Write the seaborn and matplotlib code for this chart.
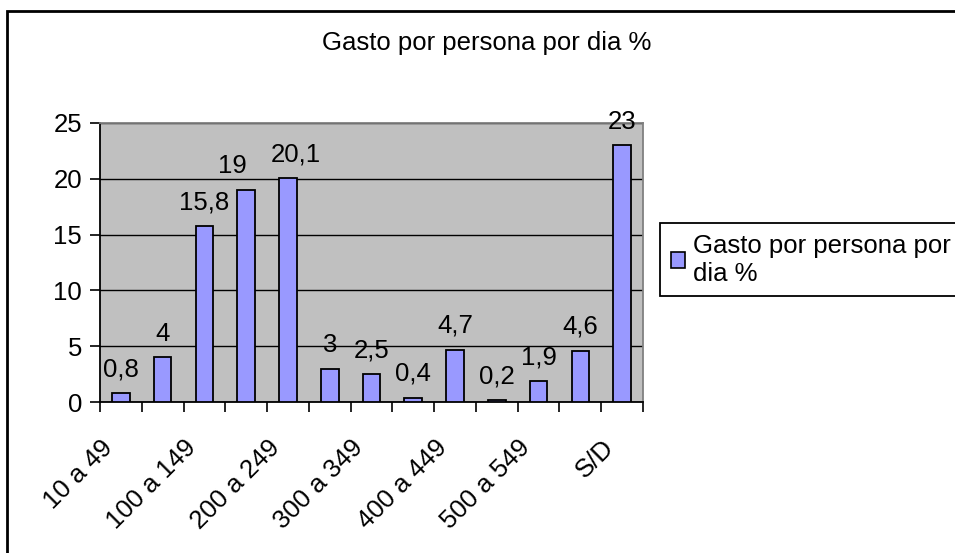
import matplotlib
matplotlib.use("Agg")
import matplotlib.pyplot as plt
from matplotlib.patches import Rectangle, Patch
import matplotlib.transforms as mtrans
import numpy as np
import pandas as pd
import seaborn as sns

categories = ["10 a 49", "50 a 99", "100 a 149", "150 a 199", "200 a 249",
              "250 a 299", "300 a 349", "350 a 399", "400 a 449", "450 a 499",
              "500 a 549", "550 a 599", "S/D"]
values = [0.8, 4, 15.8, 19, 20.1, 3, 2.5, 0.4, 4.7, 0.2, 1.9, 4.6, 23]
value_labels = ["0,8", "4", "15,8", "19", "20,1", "3", "2,5", "0,4", "4,7",
                "0,2", "1,9", "4,6", "23"]
yticks = [0, 5, 10, 15, 20, 25]
title = "Gasto por persona por dia %"
series_name = "Gasto por persona por dia %"

sns.set_theme(style="white")
plt.rcParams["font.family"] = ["Liberation Sans", "DejaVu Sans"]
plt.rcParams["text.color"] = "black"
plt.rcParams["xtick.color"] = "black"
plt.rcParams["ytick.color"] = "black"
FS = 18.5
W, H = 955, 553

fig = plt.figure(figsize=(W / 100, H / 100), dpi=100)
fig.patch.set_facecolor("white")
# outer chart border
fig.patches.append(Rectangle((7 / W, -0.1), 1.2, 1 - 11 / H + 0.1,
                             transform=fig.transFigure, fill=False,
                             edgecolor="black", lw=2, zorder=0))

ax = fig.add_axes([100 / W, 151 / H, 543 / W, 279 / H])
df = pd.DataFrame({"cat": categories, "val": values})
sns.barplot(data=df, x="cat", y="val", ax=ax, color="#9999FF", width=0.42,
            edgecolor="black", linewidth=1.3, saturation=1, zorder=3)
ax.set_facecolor("#C0C0C0")
ax.set_xlim(-0.5, len(categories) - 0.5)
ax.set_ylim(0, 25)
ax.set_yticks(yticks)
ax.set_yticklabels([str(t) for t in yticks], fontsize=FS)
ax.yaxis.grid(True, color="black", lw=1)
ax.set_axisbelow(True)
ax.set_xlabel("")
ax.set_ylabel("")

# category boundary ticks
ax.set_xticks(np.arange(-0.5, len(categories), 1))
ax.set_xticklabels([])
ax.tick_params(axis="x", which="major", direction="out", length=7, width=1.2,
               color="black", bottom=True)
idx = list(range(0, len(categories), 2))
ax.set_xticks(idx, minor=True)
ax.set_xticklabels([categories[i] for i in idx], minor=True, rotation=45,
                   ha="right", va="center", rotation_mode="anchor", fontsize=FS)
ax.tick_params(axis="x", which="minor", length=0, pad=30)
shift = mtrans.ScaledTranslation(-12 / 100, 0, fig.dpi_scale_trans)
for lbl in ax.get_xticklabels(minor=True):
    lbl.set_transform(lbl.get_transform() + shift)
ax.tick_params(axis="y", direction="out", length=7, width=1.2, color="black",
               left=True, pad=6)

for s in ["left", "bottom"]:
    ax.spines[s].set_color("black")
    ax.spines[s].set_linewidth(1.3)
for s in ["top", "right"]:
    ax.spines[s].set_color("#808080")
    ax.spines[s].set_linewidth(1.3)

# small horizontal nudges (in points) to avoid overlapping labels
nudge = {3: -10, 4: 6}
for i, (v, lab) in enumerate(zip(values, value_labels)):
    ax.annotate(lab, (i, v), xytext=(nudge.get(i, 0), 12),
                textcoords="offset points", ha="center", va="baseline",
                fontsize=FS, annotation_clip=False)

fig.text(487 / W, 1 - 43 / H, title, ha="center", va="center", fontsize=FS)

handles = [Patch(facecolor="#9999FF", edgecolor="black", lw=1.2,
                 label="Gasto por persona por\ndia %")]
leg = fig.legend(handles=handles, loc="upper left",
                 bbox_to_anchor=(660 / W, 1 - 223 / H), frameon=True,
                 fancybox=False, edgecolor="black", framealpha=1,
                 borderpad=0.42, borderaxespad=0, handlelength=0.55,
                 handleheight=0.55, handletextpad=0.33, fontsize=FS,
                 labelspacing=0.2)
leg.get_frame().set_linewidth(1.3)

fig.savefig("out.png", dpi=100)
